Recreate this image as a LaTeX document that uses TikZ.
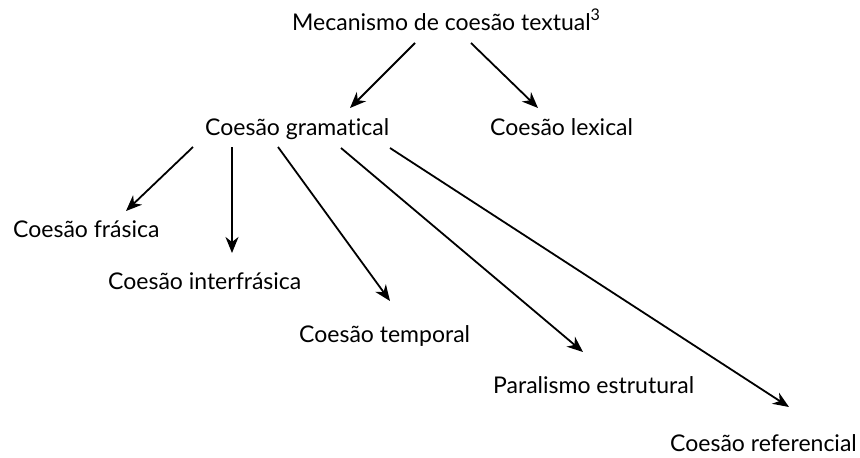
\documentclass[tikz,border=0pt]{standalone}
\usepackage{fontspec}
\setmainfont{Lato}[Ligatures=NoCommon]
\usetikzlibrary{arrows.meta}
\begin{document}
\begin{tikzpicture}[x=1pt,y=-1pt,
  lbl/.style={anchor=base west,inner sep=0pt,font=\fontsize{23}{27}\selectfont},
  arr/.style={line width=1.8pt,-{Stealth[length=16pt,width=13pt,inset=5pt]}}]
\useasboundingbox (0,0) rectangle (860,458);
\node[lbl] (mec) at (292,30) {Mecanismo de coesão textual\textsuperscript{3}};
\node[lbl] (gram) at (205,135) {Coesão gramatical};
\node[lbl] (lex) at (490,135) {Coesão lexical};
\node[lbl] (fras) at (13,237) {Coesão frásica};
\node[lbl] (inter) at (108,289) {Coesão interfrásica};
\node[lbl] (temp) at (299,342) {Coesão temporal};
\node[lbl] (para) at (493,393) {Paralismo estrutural};
\node[lbl] (ref) at (670,451) {Coesão referencial};
% connector end points
\coordinate (m1) at (415,43);
\coordinate (m2) at (471,43);
\coordinate (gin) at (350,108);
\coordinate (lin) at (538,108);
\coordinate (g1) at (193,147);
\coordinate (g2) at (232,147);
\coordinate (g3) at (278,147);
\coordinate (g4) at (341,148);
\coordinate (g5) at (390,148);
\coordinate (fin) at (126,211);
\coordinate (iin) at (232,253);
\coordinate (tin) at (390,301);
\coordinate (pin) at (583,352);
\coordinate (rin) at (789,407);
\draw[arr] (m1) -- (gin);
\draw[arr] (m2) -- (lin);
\draw[arr] (g1) -- (fin);
\draw[arr] (g2) -- (iin);
\draw[arr] (g3) -- (tin);
\draw[arr] (g4) -- (pin);
\draw[arr] (g5) -- (rin);
\end{tikzpicture}
\end{document}
